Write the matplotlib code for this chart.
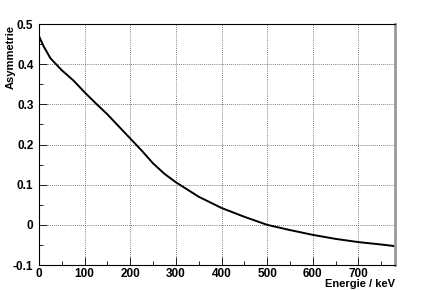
import numpy as np
import matplotlib.pyplot as plt
from matplotlib.ticker import MultipleLocator

# ---------- data ----------
energy = [0, 10, 25, 50, 75, 100, 125, 150, 175, 200, 225, 250, 275, 300,
          350, 400, 450, 500, 550, 600, 650, 700, 750, 780]
asym = [0.470, 0.445, 0.415, 0.385, 0.360, 0.330, 0.302, 0.275, 0.245, 0.215,
        0.185, 0.153, 0.127, 0.106, 0.070, 0.042, 0.020, 0.000, -0.013, -0.025,
        -0.035, -0.043, -0.049, -0.053]

x_label = "Energie / keV"
y_label = "Asymmetrie"

plt.rcParams['font.family'] = ['Liberation Sans', 'DejaVu Sans']
plt.rcParams['font.weight'] = 'bold'

fig = plt.figure(figsize=(4.36, 2.90), dpi=100)
ax = fig.add_axes([0.0894, 0.0862, 0.8166, 0.8308])

ax.plot(energy, asym, color="black", lw=1.4)

ax.set_xlim(0, 780)
ax.set_ylim(-0.1, 0.5)
ax.xaxis.set_major_locator(MultipleLocator(100))
ax.xaxis.set_minor_locator(MultipleLocator(50))
ax.yaxis.set_major_locator(MultipleLocator(0.1))
ax.yaxis.set_minor_locator(MultipleLocator(0.05))
ax.yaxis.set_major_formatter(plt.FuncFormatter(lambda v, p: "0" if abs(v) < 1e-9 else f"{v:g}"))

ax.grid(True, which="major", color="#555555", linestyle=(0, (1, 1.5)), linewidth=0.6)
ax.tick_params(which="both", direction="in", top=False, right=False, labelsize=8.5)
ax.tick_params(which="major", length=6, width=0.6)
ax.tick_params(which="minor", length=3, width=0.6)
ax.tick_params(axis="x", pad=2)
ax.tick_params(axis="y", pad=4)
for lbl in ax.get_xticklabels() + ax.get_yticklabels():
    lbl.set_fontweight("bold")

for s in ax.spines.values():
    s.set_linewidth(0.8)
ax.spines["right"].set_color("#999999")
ax.spines["right"].set_linewidth(2.0)

ax.set_xlabel(x_label, fontsize=8, fontweight="bold", ha="right", va="center")
ax.xaxis.set_label_coords(1.0, -0.08)
ax.set_ylabel(y_label, fontsize=8, fontweight="bold", ha="right", va="center")
ax.yaxis.set_label_coords(-0.079, 0.995)

fig.savefig("out.png", dpi=100)
